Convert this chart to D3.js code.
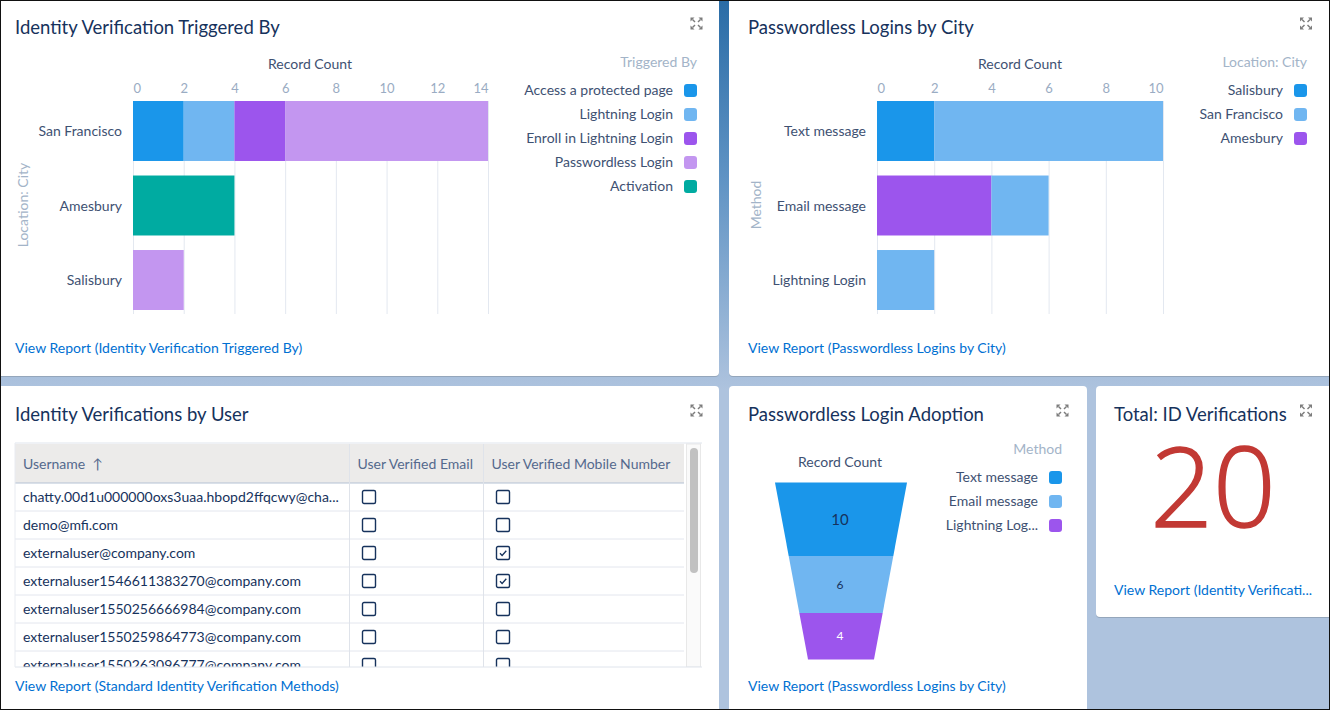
<!DOCTYPE html>
<html>
<head>
<meta charset="utf-8">
<title>Identity Verification Dashboard</title>
<script src="https://d3js.org/d3.v7.min.js"></script>
<style>
    html, body { margin: 0; padding: 0; background: #aec3de; overflow: hidden; }
    svg { display: block; }
    text { font-family: Lato, "Open Sans", sans-serif; }
    .title { font-size: 18.5px; fill: #16325c; }
    .link { font-size: 14px; fill: #0070d2; }
    .dark { font-size: 14px; fill: #3e5172; }
    .light { font-size: 14px; fill: #a3b4c8; }
    .axis text { font-size: 13px; fill: #9aacc3; font-family: Lato, sans-serif; }
    .axis line { stroke: #e3e8f0; }
    .axis path { display: none; }
    .cell { font-size: 14px; fill: #16325c; }
    .head { font-size: 14px; fill: #54698d; }
</style>
</head>
<body>
<svg id="chart" width="1330" height="710"></svg>
<script>
    // colours shared by every legend
    const blue = '#1a96ea', lightBlue = '#70b6f1', purple = '#9c55ed', lilac = '#c396f0', teal = '#00aba1';

    // Identity Verification Triggered By
    const triggerCities = ['San Francisco', 'Amesbury', 'Salisbury'];
    const triggerTypes = ['Access a protected page', 'Lightning Login', 'Enroll in Lightning Login', 'Passwordless Login', 'Activation'];
    const triggerColors = [blue, lightBlue, purple, lilac, teal];
    const triggerTicks = [0, 2, 4, 6, 8, 10, 12, 14];
    const sanFranciscoCounts = [2, 2, 2, 8];
    const sanFranciscoTypes = [0, 1, 2, 3];
    const amesburyCounts = [4];
    const amesburyTypes = [4];
    const salisburyCounts = [2];
    const salisburyTypes = [3];

    // Passwordless Logins by City
    const methods = ['Text message', 'Email message', 'Lightning Login'];
    const loginCities = ['Salisbury', 'San Francisco', 'Amesbury'];
    const loginColors = [blue, lightBlue, purple];
    const loginTicks = [0, 2, 4, 6, 8, 10];
    const textCounts = [2, 8];
    const textCities = [0, 1];
    const emailCounts = [4, 2];
    const emailCities = [2, 1];
    const lightningCounts = [2];
    const lightningCities = [1];

    // Passwordless Login Adoption
    const funnelMethods = ['Text message', 'Email message', 'Lightning Log...'];
    const funnelCounts = [10, 6, 4];
    const funnelColors = [blue, lightBlue, purple];
    const funnelTextColors = ['#16325c', '#16325c', '#ffffff'];
    const funnelTextSizes = [15, 12, 12];

    // Identity Verifications by User
    const tableHeaders = ['Username  ↑', 'User Verified Email', 'User Verified Mobile Number'];
    const usernames = [
        'chatty.00d1u000000oxs3uaa.hbopd2ffqcwy@cha...',
        'demo@mfi.com',
        'externaluser@company.com',
        'externaluser1546611383270@company.com',
        'externaluser1550256666984@company.com',
        'externaluser1550259864773@company.com',
        'externaluser1550263096777@company.com'
    ];
    const verifiedEmail = [false, false, false, false, false, false, false];
    const verifiedMobile = [false, false, true, true, false, false, false];

    const totalVerifications = 20;

    const svg = d3.select('#chart');
    const defs = svg.append('defs');

    // background, darker at the top of the page
    const grad = defs.append('linearGradient').attr('id', 'bg').attr('x1', 0).attr('y1', 0).attr('x2', 0).attr('y2', 1);
    grad.append('stop').attr('offset', '0%').attr('stop-color', '#2a6ca6');
    grad.append('stop').attr('offset', '25%').attr('stop-color', '#5f93c4');
    grad.append('stop').attr('offset', '55%').attr('stop-color', '#aec3de');
    grad.append('stop').attr('offset', '100%').attr('stop-color', '#aec3de');
    svg.append('rect').attr('width', 1330).attr('height', 710).attr('fill', 'url(#bg)');

    function panel(x, y, w, h) {
        svg.append('rect').attr('x', x).attr('y', y + 1).attr('width', w).attr('height', h)
            .attr('rx', 4).attr('fill', '#94a6bb');
        svg.append('rect').attr('x', x).attr('y', y).attr('width', w).attr('height', h)
            .attr('rx', 4).attr('fill', '#fff');
    }

    // four little arrows pointing at the corners
    function expandIcon(cx, cy) {
        const g = svg.append('g').attr('transform', `translate(${cx},${cy})`)
            .attr('fill', '#7c7c7c').attr('stroke', '#7c7c7c');
        [[-1, -1], [1, -1], [-1, 1], [1, 1]].forEach(([sx, sy]) => {
            g.append('path').attr('stroke', 'none')
                .attr('d', `M${sx * 6},${sy * 6}L${sx * 2},${sy * 6}L${sx * 6},${sy * 2}Z`);
            g.append('line').attr('stroke-width', 1.4)
                .attr('x1', sx * 1.5).attr('y1', sy * 1.5).attr('x2', sx * 4).attr('y2', sy * 4);
        });
    }

    function legend(title, labels, colors, right, titleY, firstY) {
        svg.append('text').attr('class', 'light').attr('x', right).attr('y', titleY)
            .attr('text-anchor', 'end').attr('dy', '0.35em').text(title);
        const rows = svg.append('g').selectAll('g').data(labels).join('g')
            .attr('transform', (d, i) => `translate(0,${firstY + i * 24})`);
        rows.append('rect').attr('x', right - 13).attr('y', -6.5).attr('width', 13).attr('height', 13)
            .attr('rx', 3).attr('fill', (d, i) => colors[i]);
        rows.append('text').attr('class', 'dark').attr('x', right - 24).attr('dy', '0.35em')
            .attr('text-anchor', 'end').text(d => d);
    }

    function stackedBars(opts) {
        const x = d3.scaleLinear().domain(opts.domain).range(opts.xRange);
        const y = d3.scaleBand().domain(opts.categories).range([101, 310]).paddingInner(0.195);

        svg.append('g').attr('class', 'axis').attr('transform', 'translate(0,101)')
            .call(d3.axisTop(x).tickValues(opts.ticks).tickSize(-213).tickPadding(8))
            .call(g => g.selectAll('.tick text').attr('text-anchor', (d, i) =>
                i === 0 ? 'start' : (i === opts.ticks.length - 1 ? 'end' : 'middle')));

        opts.categories.forEach((cat, r) => {
            let start = 0;
            const segs = opts.counts[r].map((v, i) => {
                const seg = { x0: start, x1: start + v, color: opts.colors[opts.series[r][i]] };
                start += v;
                return seg;
            });
            svg.append('g').selectAll('rect').data(segs).join('rect')
                .attr('x', d => x(d.x0)).attr('width', d => x(d.x1) - x(d.x0))
                .attr('y', y(cat)).attr('height', y.bandwidth())
                .attr('fill', d => d.color);
        });

        svg.append('g').selectAll('text').data(opts.categories).join('text')
            .attr('class', 'dark').attr('x', opts.xRange[0] - 11)
            .attr('y', d => y(d) + y.bandwidth() / 2 + 0.4).attr('dy', '0.35em')
            .attr('text-anchor', 'end').text(d => d);

        svg.append('text').attr('class', 'dark').attr('x', opts.titleX).attr('y', 64)
            .attr('dy', '0.35em').attr('text-anchor', 'middle').text('Record Count');
        svg.append('text').attr('class', 'light')
            .attr('transform', `translate(${opts.yTitleX},${opts.yTitleY}) rotate(-90)`)
            .attr('dy', '0.35em').attr('text-anchor', 'middle').text(opts.yTitle);
    }

    // panels
    panel(-6, -6, 725, 382);
    panel(729, -6, 610, 382);
    panel(-6, 386, 725, 330);
    panel(729, 386, 358, 330);
    panel(1096, 386, 240, 231);

    // titles, links, icons
    const titles = [
        ['Identity Verification Triggered By', 15, 28],
        ['Passwordless Logins by City', 748, 28],
        ['Identity Verifications by User', 15, 415],
        ['Passwordless Login Adoption', 748, 415],
        ['Total: ID Verifications', 1114, 415]
    ];
    svg.append('g').selectAll('text').data(titles).join('text').attr('class', 'title')
        .attr('x', d => d[1]).attr('y', d => d[2]).attr('dy', '0.35em').text(d => d[0]);

    const links = [
        ['View Report (Identity Verification Triggered By)', 15, 348],
        ['View Report (Passwordless Logins by City)', 748, 348],
        ['View Report (Standard Identity Verification Methods)', 15, 686],
        ['View Report (Passwordless Logins by City)', 748, 686],
        ['View Report (Identity Verificati...', 1114, 590]
    ];
    svg.append('g').selectAll('text').data(links).join('text').attr('class', 'link')
        .attr('x', d => d[1]).attr('y', d => d[2]).attr('dy', '0.35em').text(d => d[0]);

    expandIcon(696.5, 23.5);
    expandIcon(1306, 23.5);
    expandIcon(696.5, 410.5);
    expandIcon(1062.5, 410.5);
    expandIcon(1306, 410.5);

    // bar charts
    stackedBars({
        categories: triggerCities, domain: [0, 14], xRange: [133, 488], ticks: triggerTicks,
        counts: [sanFranciscoCounts, amesburyCounts, salisburyCounts],
        series: [sanFranciscoTypes, amesburyTypes, salisburyTypes],
        colors: triggerColors, titleX: 310, yTitle: 'Location: City', yTitleX: 23, yTitleY: 205
    });
    legend('Triggered By', triggerTypes, triggerColors, 697, 62, 90.5);

    stackedBars({
        categories: methods, domain: [0, 10], xRange: [877, 1163], ticks: loginTicks,
        counts: [textCounts, emailCounts, lightningCounts],
        series: [textCities, emailCities, lightningCities],
        colors: loginColors, titleX: 1020, yTitle: 'Method', yTitleX: 756, yTitleY: 205
    });
    legend('Location: City', loginCities, loginColors, 1307, 62, 90.5);

    // funnel: band height goes with the square root of the count
    const bandHeight = d3.scaleSqrt().domain([0, 10]).range([0, 73.5]);
    const funnelTop = 482.5;
    let used = 0;
    const bands = funnelCounts.map((v, i) => {
        const band = { value: v, i: i, y0: used, y1: used + bandHeight(v) };
        used = band.y1;
        return band;
    });
    const funnelWidth = d3.scaleLinear().domain([0, used]).range([132, 66]);
    const funnelX = 841;
    svg.append('g').selectAll('path').data(bands).join('path')
        .attr('fill', d => funnelColors[d.i])
        .attr('d', d => {
            const w0 = funnelWidth(d.y0) / 2, w1 = funnelWidth(d.y1) / 2;
            const t = funnelTop + d.y0, b = funnelTop + d.y1;
            return `M${funnelX - w0},${t}L${funnelX + w0},${t}L${funnelX + w1},${b}L${funnelX - w1},${b}Z`;
        });
    svg.append('g').selectAll('text').data(bands).join('text')
        .attr('x', funnelX - 1).attr('y', d => funnelTop + (d.y0 + d.y1) / 2)
        .attr('dy', '0.35em').attr('text-anchor', 'middle')
        .attr('fill', d => funnelTextColors[d.i]).attr('font-size', d => funnelTextSizes[d.i])
        .text(d => d.value);
    svg.append('text').attr('class', 'dark').attr('x', 840).attr('y', 462).attr('dy', '0.35em')
        .attr('text-anchor', 'middle').text('Record Count');
    legend('Method', funnelMethods, funnelColors, 1062, 449.5, 477.5);

    // big number
    svg.append('text').attr('x', 1213).attr('y', 527).attr('text-anchor', 'middle')
        .attr('fill', '#c23934').attr('stroke', '#c23934').attr('stroke-width', 1.6)
        .attr('font-size', 110).attr('font-weight', 300)
        .style('font-family', '"Open Sans", sans-serif').text(totalVerifications);

    // table
    defs.append('clipPath').attr('id', 'tableClip').append('rect')
        .attr('x', 15).attr('y', 443).attr('width', 686).attr('height', 224);
    const table = svg.append('g').attr('clip-path', 'url(#tableClip)');
    const rowY = d3.scaleBand().domain(d3.range(usernames.length)).range([483, 679]);
    const colLeft = [15, 349.5, 483.5];
    const tableRight = 684;

    table.append('rect').attr('x', 15).attr('y', 444).attr('width', tableRight - 15).attr('height', 39).attr('fill', '#ecebea');
    table.append('line').attr('x1', 15).attr('x2', tableRight).attr('y1', 483).attr('y2', 483)
        .attr('stroke', '#b4c2d3').attr('stroke-width', 1.2);
    table.selectAll('.head').data(tableHeaders).join('text').attr('class', 'head')
        .attr('x', (d, i) => colLeft[i] + 8).attr('y', 464).attr('dy', '0.35em')
        .style('white-space', 'pre').text(d => d);

    table.selectAll('.rowline').data(usernames.slice(0, 6)).join('line').attr('class', 'rowline')
        .attr('x1', 15).attr('x2', tableRight)
        .attr('y1', (d, i) => rowY(i) + rowY.bandwidth()).attr('y2', (d, i) => rowY(i) + rowY.bandwidth())
        .attr('stroke', '#e3e6ee');
    table.selectAll('.colline').data(colLeft.slice(1)).join('line').attr('class', 'colline')
        .attr('x1', d => d).attr('x2', d => d).attr('y1', 444).attr('y2', 667).attr('stroke', '#dfe3ea');

    table.selectAll('.cell').data(usernames).join('text').attr('class', 'cell')
        .attr('x', 23).attr('y', (d, i) => rowY(i) + rowY.bandwidth() / 2).attr('dy', '0.35em').text(d => d);

    function checkboxes(values, left) {
        const g = table.append('g').selectAll('g').data(values).join('g')
            .attr('transform', (d, i) => `translate(${left},${rowY(i) + rowY.bandwidth() / 2 - 6.5})`);
        g.append('rect').attr('width', 13).attr('height', 13).attr('rx', 1.5)
            .attr('fill', '#fff').attr('stroke', '#16325c').attr('stroke-width', 1.4);
        g.filter(d => d).append('path').attr('d', 'M3.5,6.8L5.6,9L9.8,4.2')
            .attr('fill', 'none').attr('stroke', '#16325c').attr('stroke-width', 1.3);
    }
    checkboxes(verifiedEmail, 362.5);
    checkboxes(verifiedMobile, 496.5);

    // scrollbar
    table.append('rect').attr('x', 686.5).attr('y', 444).attr('width', 14).attr('height', 223)
        .attr('fill', '#fafafa').attr('stroke', '#e8e8e8');
    table.append('rect').attr('x', 690).attr('y', 448).attr('width', 8).attr('height', 125)
        .attr('rx', 4).attr('fill', '#c1c1c1');
    svg.append('line').attr('x1', 15).attr('x2', 702).attr('y1', 443).attr('y2', 443).attr('stroke', '#dfe4ec');
    svg.append('line').attr('x1', 15).attr('x2', 702).attr('y1', 667).attr('y2', 667).attr('stroke', '#dfe4ec');
    svg.append('line').attr('x1', 15).attr('x2', 15).attr('y1', 443).attr('y2', 667).attr('stroke', '#e8ebf1');

    // screenshot frame
    svg.append('rect').attr('x', 0.5).attr('y', 0.5).attr('width', 1329).attr('height', 709)
        .attr('fill', 'none').attr('stroke', '#111');
</script>
</body>
</html>
